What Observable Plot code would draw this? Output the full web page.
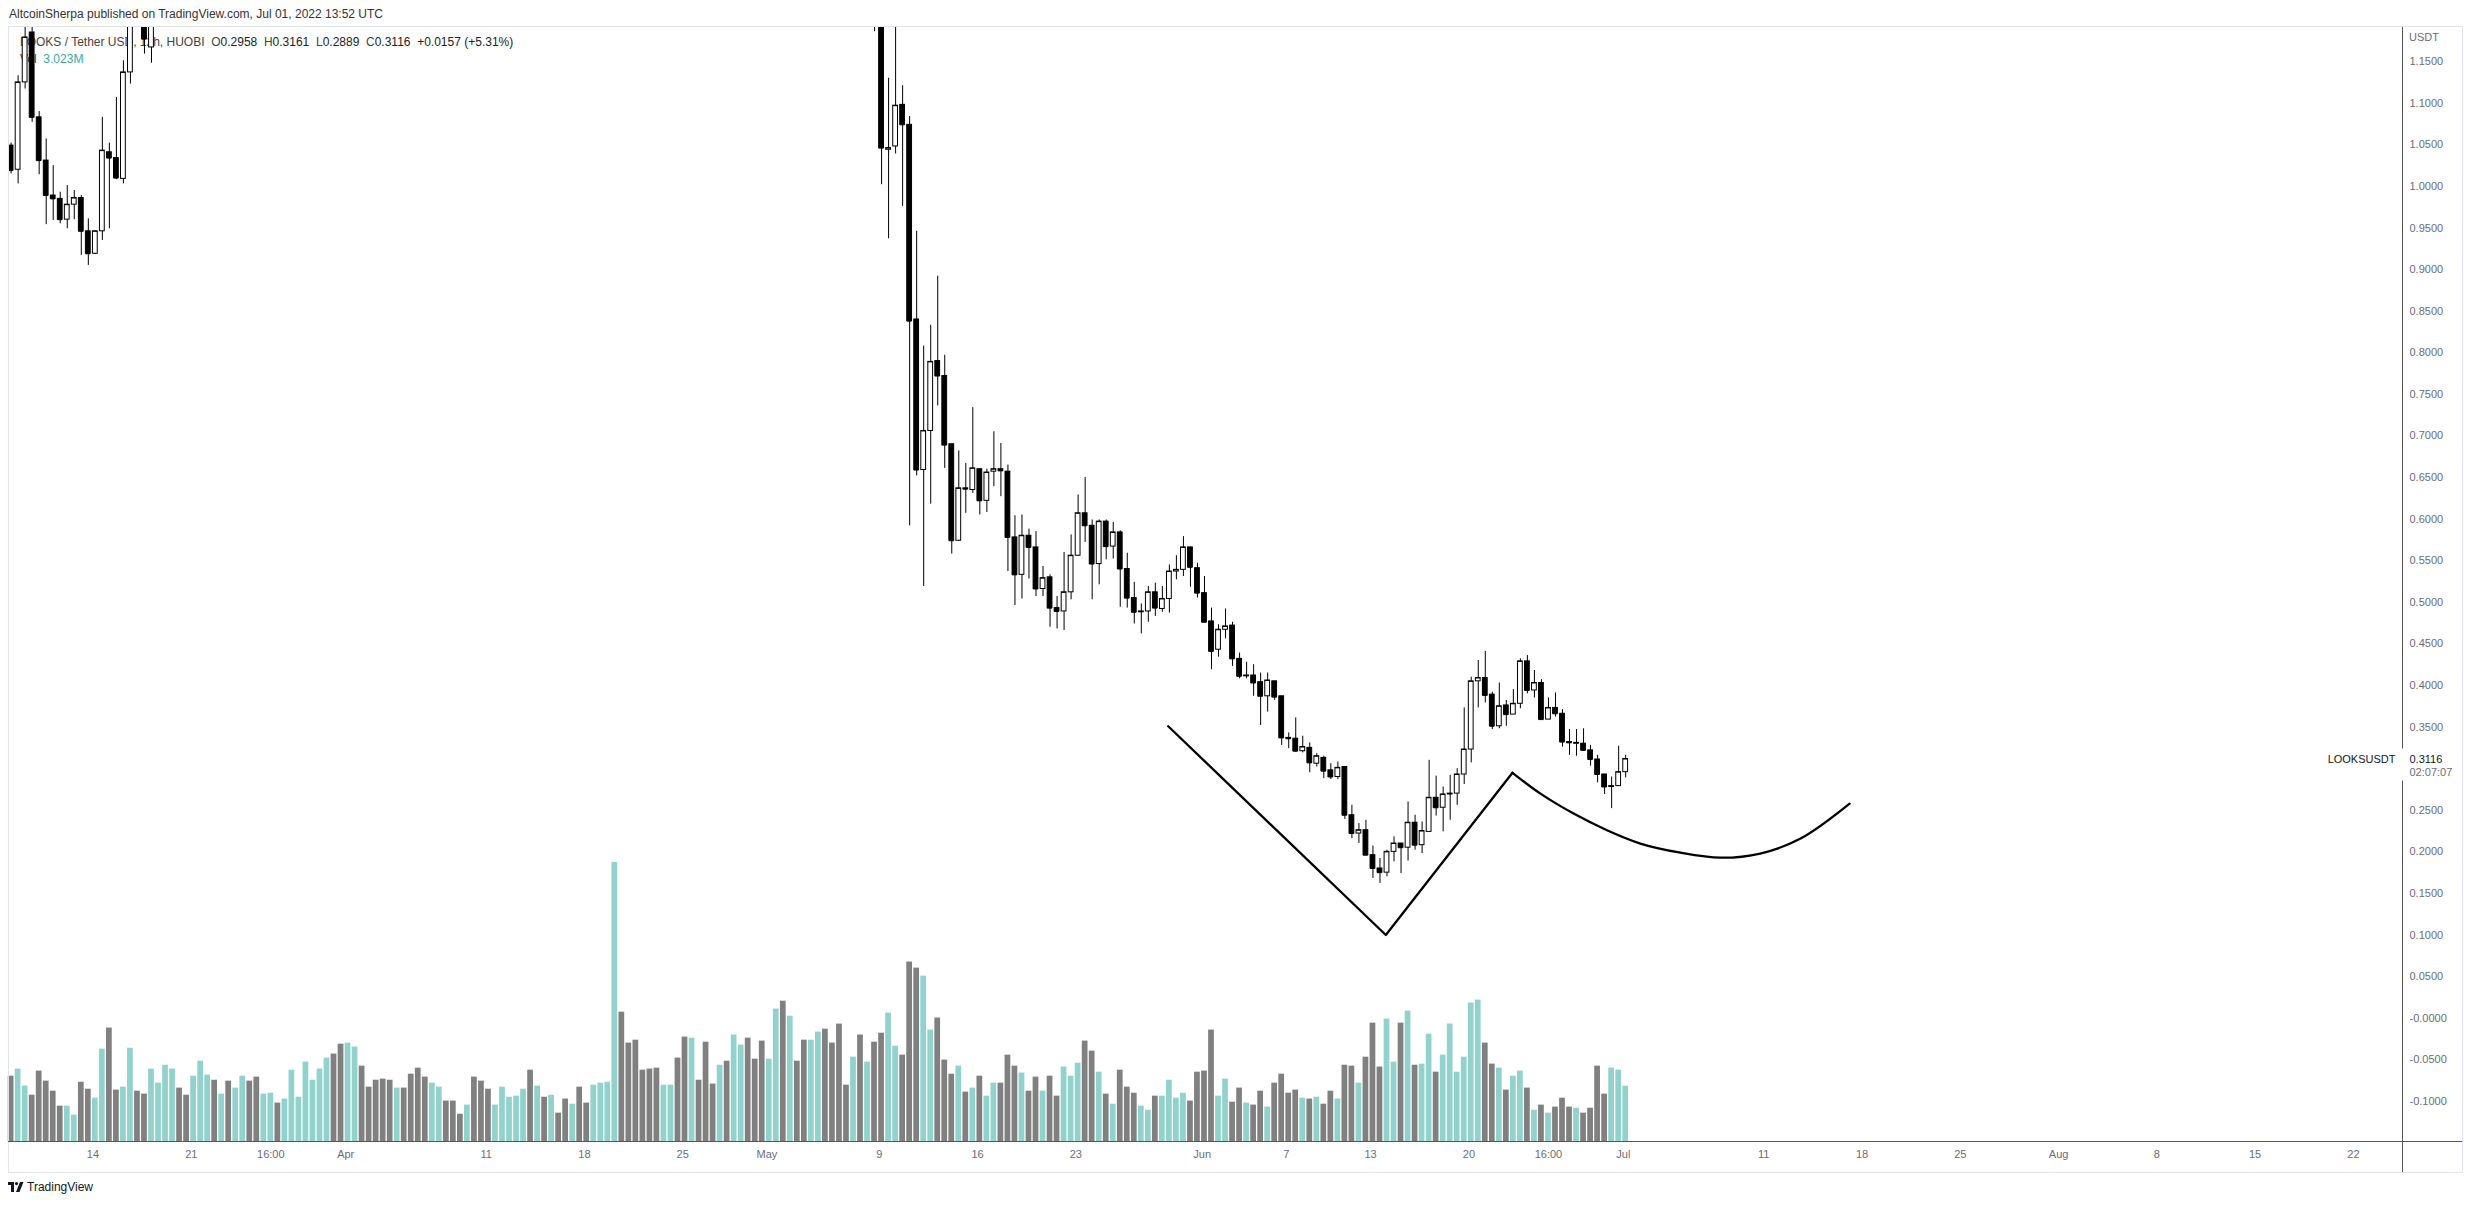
<!DOCTYPE html>
<html><head><meta charset="utf-8">
<script src="https://cdn.jsdelivr.net/npm/d3@7"></script>
<script src="https://cdn.jsdelivr.net/npm/@observablehq/plot@0.6"></script>
<style>
html,body{margin:0;padding:0;background:#fff;}
#wrap{position:relative;width:2474px;height:1205px;overflow:hidden;font-family:"Liberation Sans",Arial,sans-serif;}
.abs{position:absolute;white-space:nowrap;}
#vol,#main{position:absolute;left:0;top:0;}
</style></head>
<body><div id="wrap">
<div class="abs" style="left:9px;top:7px;font-size:12px;color:#333;">AltcoinSherpa published on TradingView.com, Jul 01, 2022 13:52 UTC</div>
<div class="abs" style="left:20px;top:35px;font-size:12px;color:#444;">LOOKS / Tether USD, 12h, HUOBI&nbsp;&nbsp;O<span style="color:#222">0.2958</span>&nbsp;&nbsp;H<span style="color:#222">0.3161</span>&nbsp;&nbsp;L<span style="color:#222">0.2889</span>&nbsp;&nbsp;C<span style="color:#222">0.3116</span>&nbsp;&nbsp;<span style="color:#222">+0.0157 (+5.31%)</span></div>
<div class="abs" style="left:20px;top:52px;font-size:12px;color:#444;">Vol&nbsp;&nbsp;<span style="color:#3aa99e">3.023M</span></div>
<div id="vol"></div>
<div id="main"></div>
<div class="abs" style="left:2409px;top:31px;font-size:11px;color:#6a6d78;">USDT</div>
<div class="abs" style="left:8px;top:1180px;font-size:12px;color:#131722;display:flex;align-items:center;gap:3px;">
<svg width="16" height="10" viewBox="0 0 16 10"><path d="M0 0H6V10H3V3H0Z" fill="#131722"/><circle cx="8.5" cy="1.6" r="1.6" fill="#131722"/><path d="M12 0H15.5L11.5 10H8Z" fill="#131722"/></svg>
<span>TradingView</span></div>
</div>
<script>
// ---------- DATA ----------
// 12h candles, index 0 = 2022-03-08 04:00 UTC
const firstCandleTime = "2022-03-08T04:00:00Z";
const lateFirstIndex = 123;

// Mar 8 04:00 .. Mar 18 04:00 (index 18 lies above the visible range)
const earlyOpen  = [1.049,1.020,1.125,1.185,1.083,1.031,0.989,0.985,0.960,0.978,0.986,0.946,0.919,0.946,1.041,1.034,1.009,1.137,null,1.22,1.167];
const earlyHigh  = [1.052,1.133,1.20,1.21,1.090,1.057,1.025,0.993,1.001,0.995,0.989,0.961,0.946,1.083,1.052,1.107,1.151,1.26,null,1.25,1.25];
const earlyLow   = [1.015,1.003,1.117,1.077,1.014,0.954,0.959,0.955,0.949,0.960,0.917,0.905,0.918,0.935,0.949,1.008,1.003,1.123,null,1.159,1.148];
const earlyClose = [1.019,1.125,1.179,1.083,1.031,0.989,0.985,0.960,0.978,0.986,0.946,0.919,0.946,1.043,1.034,1.010,1.137,1.21,null,1.177,1.22];

// May 8 16:00 .. Jul 1 04:00
const lateOpen = [1.27,1.24,1.044,1.048,1.098,1.074,0.840,0.659,0.706,0.790,
 0.772,0.690,0.574,0.637,0.635,0.660,0.622,0.657,0.660,0.657,
 0.578,0.533,0.580,0.566,0.516,0.530,0.493,0.489,0.512,0.556,
 0.607,0.592,0.546,0.597,0.567,0.584,0.540,0.505,0.488,0.489,
 0.512,0.492,0.504,0.537,0.539,0.566,0.541,0.511,0.477,0.443,
 0.467,0.472,0.432,0.411,0.412,0.404,0.387,0.405,0.387,0.337,
 0.336,0.321,0.325,0.306,0.313,0.298,0.290,0.302,0.244,0.222,
 0.226,0.196,0.180,0.175,0.200,0.210,0.205,0.235,0.208,0.224,
 0.265,0.253,0.269,0.270,0.293,0.323,0.405,0.409,0.389,0.351,
 0.376,0.365,0.378,0.429,0.394,0.403,0.359,0.373,0.366,0.332,
 0.330,0.330,0.322,0.311,0.293,0.278,0.279,0.2958];
const lateHigh = [1.30,1.26,1.130,1.21,1.121,1.084,0.946,0.808,0.833,0.892,
 0.797,0.690,0.682,0.667,0.734,0.660,0.660,0.705,0.691,0.665,
 0.604,0.605,0.588,0.585,0.543,0.533,0.507,0.560,0.581,0.629,
 0.650,0.599,0.599,0.599,0.596,0.586,0.559,0.524,0.498,0.519,
 0.523,0.519,0.545,0.556,0.579,0.566,0.547,0.531,0.493,0.473,
 0.492,0.476,0.439,0.428,0.425,0.415,0.415,0.405,0.387,0.343,
 0.361,0.339,0.331,0.318,0.315,0.306,0.308,0.302,0.256,0.234,
 0.238,0.207,0.192,0.202,0.218,0.210,0.260,0.244,0.236,0.310,
 0.291,0.278,0.292,0.300,0.373,0.410,0.430,0.441,0.392,0.403,
 0.382,0.395,0.432,0.436,0.418,0.407,0.385,0.391,0.371,0.347,
 0.347,0.348,0.328,0.316,0.293,0.290,0.327,0.3161];
const lateLow = [1.186,1.002,0.937,1.039,0.976,0.592,0.652,0.519,0.618,0.736,
 0.661,0.558,0.573,0.607,0.631,0.605,0.608,0.639,0.627,0.537,
 0.496,0.504,0.528,0.507,0.507,0.470,0.468,0.466,0.503,0.555,
 0.572,0.503,0.521,0.551,0.552,0.494,0.493,0.474,0.462,0.476,
 0.483,0.488,0.487,0.527,0.531,0.518,0.505,0.476,0.419,0.434,
 0.456,0.423,0.408,0.408,0.387,0.352,0.368,0.382,0.328,0.324,
 0.320,0.319,0.295,0.302,0.288,0.287,0.287,0.239,0.216,0.210,
 0.196,0.168,0.162,0.170,0.188,0.174,0.189,0.202,0.198,0.224,
 0.243,0.224,0.238,0.256,0.281,0.307,0.373,0.379,0.347,0.348,
 0.351,0.365,0.372,0.390,0.385,0.359,0.359,0.362,0.326,0.316,
 0.315,0.321,0.303,0.283,0.269,0.252,0.279,0.2889];
const lateClose = [1.24,1.046,1.046,1.097,1.074,0.838,0.659,0.706,0.789,0.772,
 0.689,0.574,0.637,0.636,0.661,0.622,0.656,0.660,0.658,0.578,
 0.533,0.580,0.566,0.516,0.529,0.493,0.489,0.512,0.556,0.607,
 0.592,0.546,0.597,0.567,0.584,0.540,0.505,0.488,0.489,0.512,
 0.493,0.504,0.537,0.539,0.566,0.542,0.511,0.476,0.441,0.467,
 0.471,0.432,0.411,0.412,0.403,0.387,0.406,0.386,0.337,0.336,
 0.321,0.326,0.307,0.315,0.297,0.290,0.301,0.244,0.222,0.226,
 0.196,0.180,0.175,0.200,0.210,0.205,0.235,0.208,0.225,0.265,
 0.253,0.269,0.270,0.293,0.323,0.405,0.409,0.388,0.351,0.375,
 0.365,0.378,0.429,0.394,0.403,0.359,0.373,0.366,0.332,0.331,
 0.331,0.322,0.311,0.293,0.278,0.279,0.2958,0.3116];

// Volume (millions), every 12h candle from index 0
const volumes = [3.57,3.96,3.03,2.53,3.85,3.30,2.75,1.93,1.93,1.44,
 3.24,2.86,2.37,5.05,6.20,2.81,2.97,5.10,2.75,2.59,
 3.96,3.19,4.17,3.96,2.92,2.53,3.57,4.39,3.63,3.35,
 2.59,3.30,2.92,3.57,3.30,3.52,2.59,2.64,2.10,2.32,
 3.90,2.42,4.34,3.35,3.96,4.56,4.78,5.32,5.38,5.16,
 4.12,2.97,3.35,3.41,3.35,2.92,2.92,3.68,4.01,3.52,
 3.19,2.97,2.21,2.21,1.49,1.99,3.52,3.30,2.86,1.99,
 2.97,2.42,2.48,2.86,3.90,3.03,2.42,2.53,1.55,2.32,
 2.04,2.97,2.10,3.08,3.19,3.24,15.26,7.07,5.38,5.54,
 3.90,3.96,4.01,3.08,3.08,4.56,5.71,5.65,3.35,5.43,
 3.14,4.17,4.39,5.82,5.27,5.65,4.50,5.49,4.50,7.24,
 7.67,6.85,4.39,5.54,5.54,5.98,6.14,5.38,6.42,3.08,
 4.61,5.82,4.34,5.43,5.92,7.02,5.21,4.72,9.81,9.48,
 9.04,6.09,6.75,4.45,3.68,4.12,2.70,2.92,3.57,2.48,
 3.19,3.19,4.72,4.12,3.74,2.75,3.52,2.75,3.57,2.48,
 4.07,3.57,4.28,5.49,4.94,3.79,2.59,2.04,3.90,2.97,
 2.64,1.93,1.71,2.48,2.48,3.35,2.37,2.64,2.21,3.79,
 3.85,6.09,2.48,3.41,2.15,2.92,2.10,1.99,2.75,1.88,
 3.19,3.68,2.64,2.81,2.37,2.32,2.42,2.04,2.75,2.32,
 4.17,4.12,3.19,4.61,6.47,4.07,6.69,4.34,6.47,7.13,
 4.17,4.23,5.87,3.79,4.72,6.42,3.79,4.61,7.57,7.73,
 5.38,4.23,4.01,2.81,3.57,3.85,2.92,1.71,1.99,1.55,
 1.88,2.37,1.88,1.82,1.55,1.82,4.12,2.59,4.01,3.90,3.023];
// u = up bar (teal), d = down bar (grey), one letter per candle
const volumeDir = [
 "duuddddduu","dduudduudd","uuuudduuud","uduudduudu","uuuuuudduu",
 "dddddudddd","uudddudddu","uuuudududd","udduuuuddd","ddduuddudd",
 "duduuddduu","dudduudddd","ududduuddd","uudddududu","uddduddudd",
 "uuuddududd","duuduuuudd","dduudduddu","ddddududdu","dduddduudu",
 "duuduuuuuu","dduduududu","dddudddduu","u"].join("");

// Price axis ticks
const priceTicks = [1.15,1.10,1.05,1.00,0.95,0.90,0.85,0.80,0.75,0.70,0.65,0.60,0.55,0.50,0.45,0.40,0.35,0.25,0.20,0.15,0.10,0.05,0,-0.05,-0.10];
const priceTickLabels = ["1.1500","1.1000","1.0500","1.0000","0.9500","0.9000","0.8500","0.8000","0.7500","0.7000","0.6500","0.6000","0.5500","0.5000","0.4500","0.4000","0.3500","0.2500","0.2000","0.1500","0.1000","0.0500","-0.0000","-0.0500","-0.1000"];
// Time axis ticks
const timeTicks = ["2022-03-14T00:00Z","2022-03-21T00:00Z","2022-03-26T16:00Z","2022-04-01T00:00Z","2022-04-11T00:00Z","2022-04-18T00:00Z","2022-04-25T00:00Z","2022-05-01T00:00Z","2022-05-09T00:00Z","2022-05-16T00:00Z","2022-05-23T00:00Z","2022-06-01T00:00Z","2022-06-07T00:00Z","2022-06-13T00:00Z","2022-06-20T00:00Z","2022-06-25T16:00Z","2022-07-01T00:00Z","2022-07-11T00:00Z","2022-07-18T00:00Z","2022-07-25T00:00Z","2022-08-01T00:00Z","2022-08-08T00:00Z","2022-08-15T00:00Z","2022-08-22T00:00Z"];
const timeTickLabels = ["14","21","16:00","Apr","11","18","25","May","9","16","23","Jun","7","13","20","16:00","Jul","11","18","25","Aug","8","15","22"];

// Hand-drawn annotation (time, price)
const vTimes  = ["2022-05-29T14:00Z","2022-06-14T02:00Z","2022-06-23T02:30Z"];
const vPrices = [0.351, 0.100, 0.295];
const cupTimes  = ["2022-06-23T02:30Z","2022-06-25T02:20Z","2022-06-27T11:00Z","2022-06-29T20:00Z","2022-07-02T05:00Z","2022-07-05T01:40Z","2022-07-07T22:00Z","2022-07-10T18:00Z","2022-07-13T15:00Z","2022-07-17T02:50Z"];
const cupPrices = [0.295, 0.270, 0.246, 0.226, 0.210, 0.199, 0.193, 0.198, 0.216, 0.258];

const symbolName = "LOOKSUSDT";
const countdown = "02:07:07";

// ---------- BUILD ----------
const HOUR = 3600e3;
const t0 = +new Date(firstCandleTime);
const tOf = i => new Date(t0 + i * 12 * HOUR);
const candles = [];
earlyOpen.forEach((o, k) => { if (o == null) return; candles.push({t: tOf(k), open: o, high: earlyHigh[k], low: earlyLow[k], close: earlyClose[k]}); });
lateOpen.forEach((o, k) => candles.push({t: tOf(lateFirstIndex + k), open: o, high: lateHigh[k], low: lateLow[k], close: lateClose[k]}));
candles.forEach(c => { c.x1 = new Date(+c.t - 4.1 * HOUR); c.x2 = new Date(+c.t + 4.1 * HOUR); c.up = c.close >= c.open; });
const vols = volumes.map((v, i) => ({t: tOf(i), v, zero: 0, up: volumeDir[i] === "u", x1: new Date(+tOf(i) - 4.9 * HOUR), x2: new Date(+tOf(i) + 4.9 * HOUR)}));
const vLine = vTimes.map((s, i) => ({t: new Date(s), p: vPrices[i]}));
const cup = cupTimes.map((s, i) => ({t: new Date(s), p: cupPrices[i]}));
const last = candles[candles.length - 1];

const W = 2474, H = 1205, mL = 8, mR = 72, mT = 27, mB = 64;
const xDomain = [new Date("2022-03-07T23:34:00Z"), new Date("2022-08-25T11:55:00Z")];
const yDomain = [-0.1482, 1.1910];
const font = '"Liberation Sans", Arial, sans-serif';

const volChart = Plot.plot({
  width: W, height: H, marginLeft: mL, marginRight: mR, marginTop: mT, marginBottom: mB,
  x: {type: "utc", domain: xDomain, axis: null},
  y: {domain: [0, 60.9], axis: null},
  style: {background: "transparent"},
  marks: [
    Plot.rect(vols, {filter: d => d.up, x1: "x1", x2: "x2", y1: "zero", y2: "v", fill: "#92d2cc"}),
    Plot.rect(vols, {filter: d => !d.up, x1: "x1", x2: "x2", y1: "zero", y2: "v", fill: "#808080"})
  ]
});
document.getElementById("vol").append(volChart);

const priceFmt = d => priceTickLabels[priceTicks.findIndex(v => Math.abs(v - d) < 1e-9)];
const timeFmt = d => timeTickLabels[timeTicks.findIndex(s => +new Date(s) === +d)];

const chart = Plot.plot({
  width: W, height: H, marginLeft: mL, marginRight: mR, marginTop: mT, marginBottom: mB,
  x: {type: "utc", domain: xDomain},
  y: {domain: yDomain},
  style: {background: "transparent", fontFamily: font, fontSize: "11px"},
  marks: [
    Plot.axisY(priceTicks, {anchor: "right", tickSize: 0, tickPadding: 7, tickFormat: priceFmt, fill: "#6a6d78", label: null}),
    Plot.axisX(timeTicks.map(s => new Date(s)), {anchor: "bottom", tickSize: 0, tickPadding: 9, tickFormat: timeFmt, fill: "#6a6d78", label: null}),
    Plot.ruleX(candles, {x: "t", y1: "low", y2: "high", stroke: "#000", strokeWidth: 1, clip: true}),
    Plot.rect(candles, {filter: d => d.up, x1: "x1", x2: "x2", y1: "open", y2: "close", fill: "#fff", stroke: "#000", strokeWidth: 1, clip: true}),
    Plot.rect(candles, {filter: d => !d.up, x1: "x1", x2: "x2", y1: "open", y2: "close", fill: "#000", stroke: "#000", strokeWidth: 1, clip: true}),
    Plot.ruleY(candles, {x1: "x1", x2: "x2", y: "close", stroke: "#000", strokeWidth: 1, clip: true}),
    Plot.line(vLine, {x: "t", y: "p", stroke: "#000", strokeWidth: 2.3}),
    Plot.line(cup, {x: "t", y: "p", stroke: "#000", strokeWidth: 2.3, curve: "catmull-rom"}),
    Plot.text([last], {x: () => xDomain[1], y: "close", text: d => d.close.toFixed(4), dx: 7, textAnchor: "start", fill: "#131722", fontSize: 11}),
    Plot.text([last], {x: () => xDomain[1], y: "close", text: () => countdown, dx: 7, dy: 13, textAnchor: "start", fill: "#6a6d78", fontSize: 11}),
    Plot.text([last], {x: () => xDomain[1], y: "close", text: () => symbolName, dx: -7, textAnchor: "end", fill: "#131722", fontSize: 11})
  ]
});
document.getElementById("main").append(chart);

// frame / axis lines
const svg = d3.select(chart);
const yPx = chart.scale("y").apply(last.close);
const g = svg.append("g");
g.append("rect").attr("x", 8.5).attr("y", 26.5).attr("width", 2454).attr("height", 1146).attr("fill", "none").attr("stroke", "#e0e3eb");
g.append("line").attr("x1", 8).attr("x2", 2462).attr("y1", 1141.5).attr("y2", 1141.5).attr("stroke", "#555");
g.append("line").attr("x1", 2402.5).attr("x2", 2402.5).attr("y1", 27).attr("y2", yPx - 10).attr("stroke", "#555");
g.append("line").attr("x1", 2402.5).attr("x2", 2402.5).attr("y1", yPx + 22).attr("y2", 1172).attr("stroke", "#555");
</script>
</body></html>
